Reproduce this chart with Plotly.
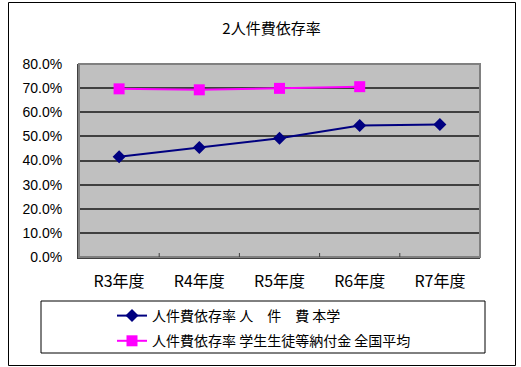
import plotly.graph_objects as go

categories = ["R3年度", "R4年度", "R5年度", "R6年度", "R7年度"]
honbu = [0.416, 0.454, 0.492, 0.545, 0.549]
zenkoku = [0.697, 0.693, 0.699, 0.706, None]
series_names = ["人件費依存率 人　件　費 本学", "人件費依存率 学生生徒等納付金 全国平均"]
title_text = "2人件費依存率"
y_ticks = [0, 0.1, 0.2, 0.3, 0.4, 0.5, 0.6, 0.7, 0.8]

W, H = 521, 367
ML, MR, MT, MB = 79, 41, 64, 110
PW, PH = W - ML - MR, H - MT - MB

def px(x):
    return (x - ML) / PW

def py(y):
    return (H - MB - y) / PH

cjk = "Noto Sans CJK JP, sans-serif"
narrow = "Liberation Sans Narrow, Arial Narrow, Liberation Sans, sans-serif"

fig = go.Figure()
fig.add_trace(go.Scatter(
    x=categories, y=honbu, name=series_names[0], mode="lines+markers",
    line=dict(color="#000080", width=2),
    marker=dict(symbol="diamond", size=10, color="#000080"),
    legendgroup="a",
))
fig.add_trace(go.Scatter(
    x=categories, y=zenkoku, name=series_names[1], mode="lines+markers",
    line=dict(color="#FF00FF", width=2),
    marker=dict(symbol="square", size=11, color="#FF00FF"),
    legendgroup="b",
))

shapes = [
    dict(type="rect", xref="paper", yref="paper", x0=px(8.5), x1=px(515.5), y0=py(365.5), y1=py(2.5),
         line=dict(color="#000000", width=1), layer="below"),
    dict(type="rect", xref="paper", yref="paper", x0=0, x1=1, y0=0, y1=1,
         line=dict(color="#808080", width=2), layer="above"),
    dict(type="rect", xref="paper", yref="paper", x0=px(41), x1=px(485), y0=py(353), y1=py(301),
         line=dict(color="#000000", width=1)),
]

fig.update_layout(
    width=W, height=H,
    margin=dict(l=ML, r=MR, t=MT, b=MB, autoexpand=False),
    paper_bgcolor="white",
    plot_bgcolor="#C0C0C0",
    font=dict(family=cjk, size=14, color="#000000"),
    title=dict(text=title_text, xref="paper", x=px(271.5), xanchor="center",
               yref="container", y=1 - 28.5 / H, yanchor="middle",
               font=dict(size=15, family=cjk)),
    showlegend=True,
    legend=dict(x=px(112), xanchor="left", y=py(300), yanchor="top",
                bgcolor="rgba(0,0,0,0)", borderwidth=0,
                font=dict(size=14, family=cjk),
                traceorder="grouped", tracegroupgap=4, itemwidth=30),
    shapes=shapes,
    xaxis=dict(
        type="category", range=[-0.5, 4.5], showgrid=False,
        showline=True, linecolor="#404040", linewidth=2,
        ticks="", tickfont=dict(size=16, family=cjk), ticklabelstandoff=9,
        zeroline=False,
    ),
    yaxis=dict(
        range=[0, 0.8], tickvals=y_ticks, tickformat=".1%",
        showgrid=True, gridcolor="#404040", gridwidth=1.5,
        showline=True, linecolor="#404040", linewidth=2,
        ticks="", tickfont=dict(size=14, family=narrow), ticklabelstandoff=12,
        zeroline=False,
    ),
)

for b in [0.5, 1.5, 2.5, 3.5]:
    fig.add_shape(type="line", xref="x", yref="paper", x0=b, x1=b, y0=0, y1=4 / PH,
                  line=dict(color="#404040", width=1))

fig.write_html("out.html", config={"displayModeBar": False},
               post_script="document.body.style.margin='0px';document.body.style.padding='0px';")
